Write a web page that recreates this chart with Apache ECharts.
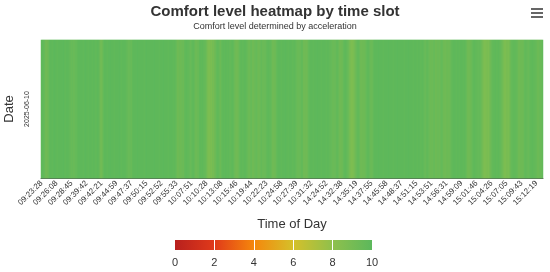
<!DOCTYPE html>
<html>
<head>
<meta charset="utf-8">
<script src="https://cdn.jsdelivr.net/npm/echarts@6/dist/echarts.min.js"></script>
<style>html,body{margin:0;padding:0;background:#fff}#c{width:550px;height:272px}</style>
</head>
<body>
<div id="c"></div>
<script>
// Time-of-day tick labels (every 15th slot is labelled)
var timeLabels = ['09:23:28','09:26:08','09:28:45','09:39:42','09:42:21','09:44:59','09:47:37','09:50:15','09:52:52','09:55:33','10:07:51','10:10:28','10:13:08','10:15:46','10:19:44','10:22:23','10:24:58','10:27:39','10:31:32','14:24:52','14:32:38','14:35:19','14:37:55','14:45:58','14:48:37','14:51:15','14:53:51','14:56:31','14:59:09','15:01:46','15:04:26','15:07:05','15:09:43','15:12:19'];
var labelStep = 15;
var dates = ['2025-06-10'];
// Comfort level per time slot
var comfort = [
9.8,9.9,9.8,9.7,9.3,9.2,9.3,9.4,9.8,9.9,9.9,9.8,9.9,10,9.9,9.9,9.8,9.9,9.9,9.9,
9.9,9.9,10,9.9,9.8,9.9,9.9,9.9,9.8,9.7,9.5,9.6,9.5,9.5,9.6,9.6,9.8,9.9,9.9,9.9,
9.9,9.9,9.8,9.9,10,9.9,9.9,9.8,9.9,9.9,9.9,9.8,9.9,9.9,9.8,9.8,9.9,9.9,9.7,9.2,
9.1,9.3,9.6,9.9,9.9,9.9,9.8,9.9,9.9,10,9.9,9.9,9.9,9.8,9.9,9.9,9.9,9.9,10,9.9,
9.8,9.9,9.9,9.9,9.9,9.8,9.7,9.5,9.5,9.6,9.5,9.8,9.9,9.9,9.9,9.9,10,9.9,9.9,9.9,
9.9,9.9,9.9,9.8,9.9,10,9.9,9.9,9.9,9.9,9.9,9.9,9.9,10,9.9,9.9,9.9,9.9,9.8,9.9,
9.9,9.9,10,9.9,9.9,9.9,9.9,9.8,9.9,9.9,9.9,9.9,9.8,9.9,9.8,9.6,9.3,9.2,9.4,9.3,
9.3,9.5,9.3,9.7,9.8,9.9,9.8,9.8,9.7,9.5,9.6,9.8,9.9,9.7,9.4,9.3,9.5,9.4,9.8,9.9,
9.8,9.9,9.8,9.7,9.6,9.4,9.0,8.8,8.7,8.9,8.7,9.1,8.9,9.2,9.3,9.6,9.8,9.8,9.6,9.3,
9.6,9.8,9.9,9.8,9.9,9.9,9.8,9.9,9.8,9.7,9.8,9.9,9.8,9.5,9.3,9.2,9.2,9.3,9.6,9.8,
9.9,9.8,9.8,9.9,9.9,9.8,9.6,9.4,9.3,9.5,9.6,9.3,9.2,9.4,9.5,9.6,9.5,9.3,9.3,9.5,
9.7,9.5,9.4,9.5,9.5,9.7,9.8,9.9,9.8,9.8,9.6,9.3,9.2,9.3,9.3,9.6,9.8,9.9,9.9,9.9,
9.8,9.9,9.9,9.9,10,9.9,9.9,9.8,9.9,9.9,9.9,9.8,9.8,9.9,9.8,9.6,9.5,9.4,9.5,9.5,
9.7,9.8,9.3,9.2,9.3,9.2,9.3,9.6,9.8,9.9,9.9,9.9,9.8,9.9,9.9,9.9,10,9.9,9.9,9.9,
9.8,9.9,9.9,9.9,9.9,9.8,9.9,9.9,9.8,9.7,9.6,9.5,9.4,9.5,9.5,9.7,9.8,9.6,9.3,9.2,
9.3,9.3,9.6,9.8,9.9,9.8,9.6,9.5,9.1,8.9,8.7,8.7,8.8,9.0,9.2,9.5,9.7,9.8,9.6,9.3,
9.2,9.3,9.3,9.3,9.4,9.6,9.8,9.9,9.7,9.5,9.4,9.5,9.7,9.9,9.9,9.9,9.9,10,9.9,9.9,
9.9,9.9,9.8,9.9,9.9,9.9,9.9,10,9.9,9.9,9.9,9.9,9.8,9.9,9.9,9.9,10,9.9,9.9,9.9,
9.9,9.9,9.9,9.8,9.9,9.9,9.9,10,9.9,9.9,9.9,9.9,9.8,9.9,9.9,9.9,9.8,9.9,9.9,9.8,
9.8,9.9,9.8,9.6,9.5,9.7,9.8,9.6,9.5,9.3,9.4,9.3,9.5,9.6,9.3,9.3,9.4,9.5,9.3,9.5,
9.6,9.6,9.3,9.3,9.2,9.3,9.4,9.3,9.3,9.5,9.7,9.8,9.9,9.9,9.9,9.8,9.9,9.9,9.8,9.9,
9.9,9.9,9.8,9.9,9.8,9.6,9.3,9.2,9.2,9.3,9.4,9.6,9.8,9.9,9.8,9.8,9.7,9.6,9.7,9.6,
9.4,9.2,8.9,8.7,8.7,8.8,8.9,8.7,9.0,9.2,9.5,9.7,9.8,9.8,9.9,9.8,9.8,9.9,9.8,9.7,
9.5,9.3,9.0,8.8,8.7,8.9,8.9,8.8,9.0,9.3,9.6,9.7,9.8,9.8,9.8,9.7,9.6,9.3,9.2,9.3,
9.3,9.3,9.3,9.6,9.8,9.7,9.6,9.5,9.6,9.8,9.8,9.9,9.8,9.8,9.7,9.6,9.4,9.3,9.5,9.4,
9.5,9.7
];
var scaleTicks = [2, 4, 6, 8];
var scaleMin = 0, scaleMax = 10;
var palette = ['#b8201e', '#e03a1a', '#f5870c', '#d5c02a', '#8fc04c', '#5cb85c'];

var categories = comfort.map(function (v, i) {
  return (i % labelStep === 0 && timeLabels[i / labelStep]) ? timeLabels[i / labelStep] : ('slot' + i);
});
var heatData = comfort.map(function (v, i) { return [i, 0, v]; });

var chart = echarts.init(document.getElementById('c'), null, { renderer: 'canvas' });
var font = 'Liberation Sans, Arial, sans-serif';
chart.setOption({
  animation: false,
  textStyle: { fontFamily: font },
  title: {
    text: 'Comfort level heatmap by time slot',
    subtext: 'Comfort level determined by acceleration',
    left: 'center', top: -1, itemGap: 3,
    textStyle: { fontSize: 15, fontWeight: 'bold', color: '#333', fontFamily: font },
    subtextStyle: { fontSize: 9, color: '#333', fontFamily: font }
  },
  toolbox: {
    right: 7, top: 8, itemSize: 12, padding: 0,
    feature: {
      myMenu: {
        show: true, title: 'Menu',
        icon: 'path://M0,0H24V4H0Z M0,8H24V12H0Z M0,16H24V20H0Z',
        onclick: function () {}
      }
    },
    iconStyle: { color: '#666', borderWidth: 0 }
  },
  grid: [
    { left: 41, right: 7, top: 40, bottom: 94, containLabel: false, outerBoundsMode: 'none' },
    { left: 175, top: 240, width: 197, height: 10, containLabel: false, outerBoundsMode: 'none' }
  ],
  xAxis: [
    {
      type: 'category', data: categories, gridIndex: 0,
      name: 'Time of Day', nameLocation: 'middle', nameGap: 40,
      nameTextStyle: { fontSize: 13, color: '#333' },
      axisLine: { show: true, lineStyle: { color: '#556b55', width: 1 } },
      axisTick: { show: false },
      splitLine: { show: false },
      axisLabel: { interval: labelStep - 1, rotate: 45, fontSize: 8, color: '#333', margin: 4 }
    },
    {
      type: 'value', gridIndex: 1, min: scaleMin, max: scaleMax, interval: 2,
      axisLine: { show: false }, axisTick: { show: false }, splitLine: { show: false },
      axisLabel: { fontSize: 11, color: '#333', margin: 7 }
    }
  ],
  yAxis: [
    {
      type: 'category', data: dates, gridIndex: 0,
      name: 'Date', nameLocation: 'middle', nameGap: 23, nameRotate: 90,
      nameTextStyle: { fontSize: 13, color: '#333' },
      axisLine: { show: false }, axisTick: { show: false }, splitLine: { show: false },
      axisLabel: { rotate: 90, fontSize: 7, color: '#333', margin: 10 }
    },
    { type: 'value', gridIndex: 1, min: 0, max: 1, show: false }
  ],
  visualMap: {
    type: 'continuous', show: false, min: scaleMin, max: scaleMax,
    seriesIndex: 0, dimension: 2,
    inRange: { color: palette }
  },
  series: [
    {
      type: 'heatmap', xAxisIndex: 0, yAxisIndex: 0, data: heatData,
      itemStyle: { borderWidth: 0 },
      emphasis: { disabled: true }
    },
    {
      type: 'line', xAxisIndex: 1, yAxisIndex: 1, data: [[0, 0]],
      showSymbol: false, symbolSize: 0, lineStyle: { width: 0 }, silent: true,
      markArea: {
        silent: true,
        itemStyle: {
          color: new echarts.graphic.LinearGradient(0, 0, 1, 0, palette.map(function (c, i) {
            return { offset: i / (palette.length - 1), color: c };
          }))
        },
        data: [[{ xAxis: scaleMin, yAxis: 0 }, { xAxis: scaleMax, yAxis: 1 }]]
      },
      markLine: {
        silent: true, symbol: 'none', label: { show: false },
        lineStyle: { color: '#ffffff', width: 1, type: 'solid' },
        data: scaleTicks.map(function (t) { return { xAxis: t }; })
      }
    }
  ]
});
</script>
</body>
</html>
